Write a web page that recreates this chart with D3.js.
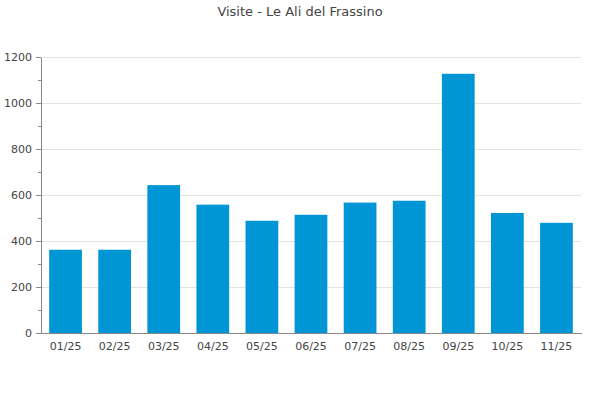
<!DOCTYPE html>
<html lang="it">
<head>
	<meta charset="UTF-8">
	<title>Visite - Le Ali del Frassino</title>
	<script src="https://cdn.jsdelivr.net/npm/d3@7"></script>
	<style>
		body { margin: 0; background: #fff; }
		svg { font-family: "DejaVu Sans", sans-serif; }
		.title { font-size: 13px; fill: #444; }
		.grid line { stroke: #e3e3e3; shape-rendering: crispEdges; }
		.axis path, .axis line { stroke: #888; shape-rendering: crispEdges; }
		.axis text { fill: #444; font-size: 11px; font-family: "DejaVu Sans", sans-serif; }
	</style>
</head>
<body>
<script>
	var months = ["01/25", "02/25", "03/25", "04/25", "05/25", "06/25", "07/25", "08/25", "09/25", "10/25", "11/25"];
	var visits = [362, 362, 643, 558, 488, 514, 567, 575, 1127, 522, 479];
	var yTicks = [0, 200, 400, 600, 800, 1000, 1200];
	var yMinor = [100, 300, 500, 700, 900, 1100];

	var width = 600, height = 400;
	var margin = {top: 57, right: 19, bottom: 67, left: 41};

	var svg = d3.select("body").append("svg")
		.attr("width", width)
		.attr("height", height);

	svg.append("text")
		.attr("class", "title")
		.attr("x", width / 2)
		.attr("y", 16)
		.attr("text-anchor", "middle")
		.text("Visite - Le Ali del Frassino");

	var x = d3.scaleBand()
		.domain(months)
		.range([margin.left, width - margin.right])
		.paddingInner(0.333)
		.paddingOuter(0.1667);

	var y = d3.scaleLinear()
		.domain([0, 1200])
		.range([height - margin.bottom, margin.top]);

	// grid
	svg.append("g")
		.attr("class", "grid")
		.selectAll("line")
		.data(yTicks.slice(1))
		.enter().append("line")
		.attr("x1", margin.left)
		.attr("x2", width - margin.right)
		.attr("y1", function (d) { return Math.round(y(d)) + 0.5; })
		.attr("y2", function (d) { return Math.round(y(d)) + 0.5; });

	svg.append("g")
		.selectAll("rect")
		.data(visits)
		.enter().append("rect")
		.attr("x", function (d, i) { return x(months[i]); })
		.attr("y", function (d) { return y(d); })
		.attr("width", x.bandwidth())
		.attr("height", function (d) { return y(0) - y(d); })
		.attr("fill", "#0096d5");

	// minor ticks
	svg.append("g")
		.attr("class", "axis")
		.attr("transform", "translate(" + margin.left + ",0)")
		.call(d3.axisLeft(y).tickValues(yMinor).tickSize(3).tickFormat(""))
		.select(".domain").remove();

	svg.append("g")
		.attr("class", "axis")
		.attr("transform", "translate(" + margin.left + ",0)")
		.call(d3.axisLeft(y).tickValues(yTicks).tickFormat(d3.format("d"))
			.tickSizeInner(5).tickSizeOuter(0).tickPadding(4));

	svg.append("g")
		.attr("class", "axis")
		.attr("transform", "translate(0," + y(0) + ")")
		.call(d3.axisBottom(x).tickSize(0).tickPadding(9));
</script>
</body>
</html>
